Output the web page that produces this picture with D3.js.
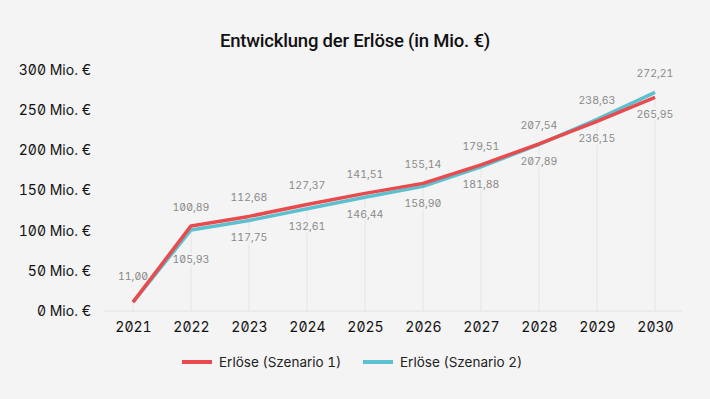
<!DOCTYPE html>
<html>
<head>
<meta charset="utf-8">
<script src="https://cdn.jsdelivr.net/npm/d3@7"></script>
<style>
  html, body { margin: 0; padding: 0; background: #f4f4f4; }
  svg text { font-family: Inter, "Noto Sans", sans-serif; font-feature-settings: "zero" 1, "tnum" 1; }
</style>
</head>
<body>
<div id="chart"></div>
<script>
document.addEventListener("DOMContentLoaded", function() {

const years = ["2021", "2022", "2023", "2024", "2025", "2026", "2027", "2028", "2029", "2030"];
const szenario1 = [11.00, 105.93, 117.75, 132.61, 146.44, 158.90, 181.88, 207.89, 236.15, 265.95];
const szenario2 = [11.00, 100.89, 112.68, 127.37, 141.51, 155.14, 179.51, 207.54, 238.63, 272.21];
const yTicks = [0, 50, 100, 150, 200, 250, 300];
const seriesNames = ["Erlöse (Szenario 1)", "Erlöse (Szenario 2)"];

const width = 710;
const height = 399;
const red = "#e84a4d";
const blue = "#5cc0cf";

const svg = d3.select("#chart")
  .append("svg")
  .attr("width", width)
  .attr("height", height);

svg.append("rect")
  .attr("width", width)
  .attr("height", height)
  .attr("fill", "#f4f4f4");

const x = d3.scalePoint()
  .domain(years)
  .range([104, 684])
  .padding(0.5);

const y = d3.scaleLinear()
  .domain([0, 300])
  .range([311, 70]);

// titulo
svg.append("text")
  .attr("x", width / 2)
  .attr("y", 47)
  .attr("text-anchor", "middle")
  .attr("font-size", "18.5px")
  .attr("font-weight", 500)
  .attr("fill", "#111")
  .style("font-family", "Roboto, sans-serif")
  .style("letter-spacing", "-0.2px")
  .text("Entwicklung der Erlöse (in Mio. €)");

// lineas verticales desde el punto
svg.append("g")
  .selectAll("line")
  .data(years)
  .join("line")
  .attr("x1", d => x(d))
  .attr("x2", d => x(d))
  .attr("y1", (d, i) => y(Math.min(szenario1[i], szenario2[i])))
  .attr("y2", y(0))
  .attr("stroke", "#e4e4e4")
  .attr("stroke-width", 1);

// eje x
const xAxis = svg.append("g")
  .attr("transform", `translate(0,${y(0)})`)
  .call(d3.axisBottom(x).tickSize(0).tickPadding(11));
xAxis.select(".domain")
  .attr("d", "M104,0H682")
  .attr("stroke", "#e2e2e2");
xAxis.selectAll("text")
  .attr("font-size", "14px")
  .attr("fill", "#111");

// eje y
const yAxis = svg.append("g")
  .attr("transform", "translate(91,0)")
  .call(d3.axisLeft(y).tickValues(yTicks).tickSize(0).tickPadding(0).tickFormat(d => d + " Mio. €"));
yAxis.select(".domain").remove();
yAxis.selectAll("text")
  .attr("font-size", "14px")
  .attr("fill", "#111");

const line = d3.line()
  .x((d, i) => x(years[i]))
  .y(d => y(d));

const fmt = v => v.toFixed(2).replace(".", ",");

// etiquetas: Szenario 2 arriba, Szenario 1 abajo
const labels = svg.append("g")
  .attr("font-size", "10.5px")
  .attr("fill", "#8a8a8a")
  .attr("text-anchor", "middle")
  .attr("stroke", "#f4f4f4")
  .attr("stroke-width", 4)
  .attr("paint-order", "stroke");

labels.selectAll(".top")
  .data(szenario2)
  .join("text")
  .attr("class", "top")
  .attr("x", (d, i) => x(years[i]))
  .attr("y", (d, i) => y(Math.max(d, szenario1[i])) - (i === 0 ? 22 : 15))
  .text(d => fmt(d));

labels.selectAll(".bottom")
  .data(szenario1)
  .join("text")
  .attr("class", "bottom")
  .attr("x", (d, i) => x(years[i]))
  .attr("y", (d, i) => y(Math.min(d, szenario2[i])) + (i === 1 ? 33 : 21))
  .text((d, i) => i === 0 ? "" : fmt(d));

// lineas encima de las etiquetas
svg.append("path")
  .datum(szenario2)
  .attr("d", line)
  .attr("fill", "none")
  .attr("stroke", blue)
  .attr("stroke-width", 3.5)
  .attr("stroke-linejoin", "round");

svg.append("path")
  .datum(szenario1)
  .attr("d", line)
  .attr("fill", "none")
  .attr("stroke", red)
  .attr("stroke-width", 3.5)
  .attr("stroke-linejoin", "round");

// leyenda
const legend = svg.append("g")
  .selectAll("g")
  .data(seriesNames)
  .join("g")
  .attr("transform", (d, i) => `translate(${i === 0 ? 182 : 363},362)`);

legend.append("line")
  .attr("x1", 0)
  .attr("x2", 30)
  .attr("stroke", (d, i) => i === 0 ? red : blue)
  .attr("stroke-width", 4);

legend.append("text")
  .attr("x", 37)
  .attr("y", 5)
  .attr("font-size", "13.5px")
  .attr("fill", "#222")
  .text(d => d);

});
</script>
</body>
</html>
